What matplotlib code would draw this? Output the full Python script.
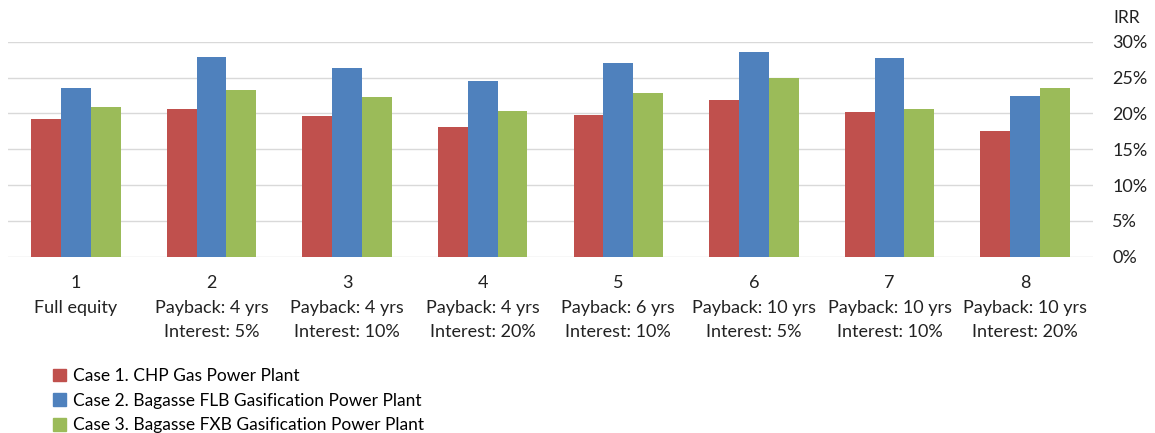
import numpy as np
import matplotlib.pyplot as plt
from matplotlib.patches import Patch
from matplotlib.ticker import FuncFormatter

plt.rcParams['font.family'] = ['Lato', 'DejaVu Sans']

# IRR (%) for each financing scenario
scenarios = ["1\nFull equity",
             "2\nPayback: 4 yrs\nInterest: 5%",
             "3\nPayback: 4 yrs\nInterest: 10%",
             "4\nPayback: 4 yrs\nInterest: 20%",
             "5\nPayback: 6 yrs\nInterest: 10%",
             "6\nPayback: 10 yrs\nInterest: 5%",
             "7\nPayback: 10 yrs\nInterest: 10%",
             "8\nPayback: 10 yrs\nInterest: 20%"]
case1_chp = [19.2, 20.6, 19.6, 18.1, 19.8, 21.9, 20.2, 17.6]
case2_flb = [23.5, 27.8, 26.4, 24.5, 27.0, 28.5, 27.7, 22.4]
case3_fxb = [20.9, 23.3, 22.3, 20.3, 22.8, 25.0, 20.6, 23.5]
series_names = ["Case 1. CHP Gas Power Plant",
                "Case 2. Bagasse FLB Gasification Power Plant",
                "Case 3. Bagasse FXB Gasification Power Plant"]
colors = ["#C0504D", "#4F81BD", "#9BBB59"]

W, H = 1155, 433
fig = plt.figure(figsize=(W / 100, H / 100), dpi=100)
ax = fig.add_axes([8 / W, 1 - 256.7 / H, 1085 / W, 215 / H])

x = np.arange(len(scenarios))
bw = 0.22
for i, vals in enumerate([case1_chp, case2_flb, case3_fxb]):
    ax.bar(x + (i - 1) * bw, vals, width=bw, color=colors[i], zorder=2)

ax.set_xlim(-0.5, len(scenarios) - 0.5)
ax.set_ylim(0, 30)
ax.set_yticks(np.arange(0, 31, 5))
ax.yaxis.set_major_formatter(FuncFormatter(lambda v, p: f"{v:.0f}%"))
ax.yaxis.tick_right()
ax.grid(axis='y', color='#D9D9D9', linewidth=1, zorder=0)
for s in ax.spines.values():
    s.set_visible(False)
ax.tick_params(axis='y', length=0, pad=14, labelsize=13, labelcolor='#222222')
ax.tick_params(axis='x', length=0, pad=13, labelsize=13, labelcolor='#222222')
ax.set_xticks(x)
ax.set_xticklabels(scenarios, linespacing=1.68)

fig.text(1113 / W, 1 - 18 / H, "IRR", fontsize=12.5, color='#222222', va='center', ha='left')

handles = [Patch(color=c) for c in colors]
fig.legend(handles, series_names, loc='upper left', bbox_to_anchor=(53 / W, 1 - 368 / H),
           frameon=False, fontsize=12.5, handlelength=0.75, handleheight=0.75,
           handletextpad=0.4, labelspacing=0.5, borderaxespad=0, borderpad=0)

fig.savefig("out.png", dpi=100)
